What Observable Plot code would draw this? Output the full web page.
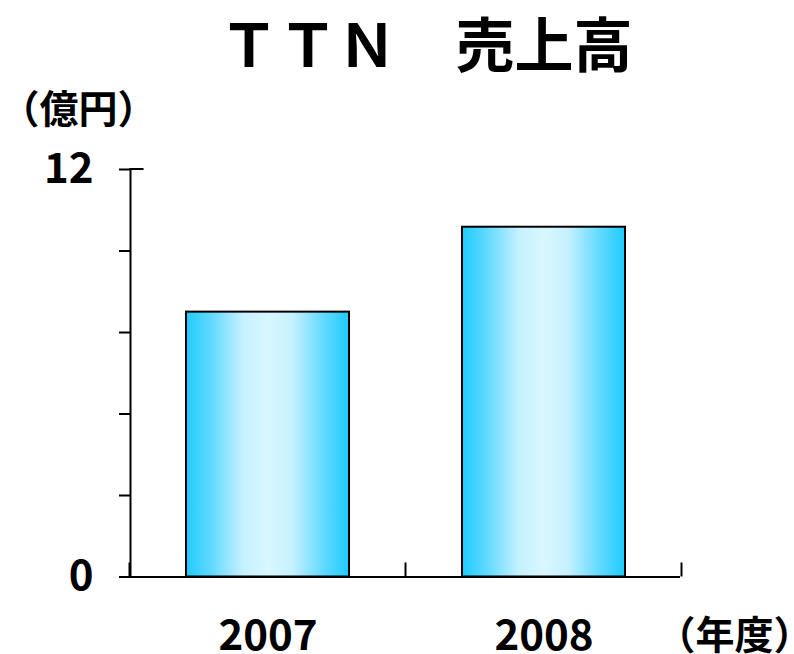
<!DOCTYPE html>
<html>
<head>
<meta charset="utf-8">
<script src="https://cdn.jsdelivr.net/npm/d3@7"></script>
<script src="https://cdn.jsdelivr.net/npm/@observablehq/plot@0.6"></script>
<style>
  html, body { margin: 0; padding: 0; background: #fff; }
  body { width: 794px; height: 654px; overflow: hidden; font-family: "Noto Sans CJK JP", sans-serif; }
  #title { height: 90px; line-height: 84px; font-size: 59px; font-weight: bold; padding-left: 58px; text-align: center; white-space: pre; color: #000; }
  #chart svg { display: block; }
</style>
</head>
<body>
<div id="title">ＴＴＮ　売上高</div>
<div id="chart"></div>
<script>
const years = ["2007", "2008"];
const sales = [7.8, 10.3];
const yTicks = [0, 2.4, 4.8, 7.2, 9.6, 12];
const yLabelTicks = [0, 12];
const yUnit = "（億円）";
const xUnit = "（年度）";
const gradStops = [
  ["0%", "#1ecbff"],
  ["15%", "#5fd9ff"],
  ["35%", "#c6f1ff"],
  ["50%", "#d8f7ff"],
  ["65%", "#c6f1ff"],
  ["85%", "#5fd9ff"],
  ["100%", "#1ecbff"]
];

const data = years.map((y, i) => ({year: y, value: sales[i]}));

const plot = Plot.plot({
  width: 794,
  height: 564,
  marginLeft: 130,
  marginRight: 114,
  marginTop: 79,
  marginBottom: 77.5,
  style: {fontFamily: '"Noto Sans CJK JP", sans-serif', fontWeight: "bold", fontSize: "42px", background: "white", color: "black", overflow: "visible"},
  x: {domain: years, paddingInner: 0.41, paddingOuter: 0.2, label: null},
  y: {domain: [0, 12], label: null},
  marks: [
    Plot.barY(data, {x: "year", y: "value", fill: "url(#barGrad)", stroke: "black", strokeWidth: 2}),
    Plot.axisX({tickSize: 0, tickPadding: 43, fontSize: 42, label: null}),
    Plot.axisY({ticks: yTicks, tickSize: 11, tickPadding: 26, strokeWidth: 2, fontSize: 42,
      tickFormat: d => yLabelTicks.includes(d) ? String(d) : "", label: null}),
    Plot.frame({anchor: "left", strokeWidth: 2}),
    Plot.ruleY([0], {strokeWidth: 2}),
    Plot.text([yUnit], {frameAnchor: "top-left", dx: -130, dy: -59, textAnchor: "start", lineAnchor: "middle", fontSize: 39, fontWeight: "bold"}),
    Plot.text([xUnit], {frameAnchor: "bottom-right", dx: -24, dy: 60, textAnchor: "start", lineAnchor: "middle", fontSize: 39, fontWeight: "bold"})
  ]
});

const svg = d3.select(plot);
const grad = svg.insert("defs", ":first-child")
  .append("linearGradient")
  .attr("id", "barGrad")
  .attr("x1", "0").attr("x2", "1").attr("y1", "0").attr("y2", "0");
gradStops.forEach(([o, c]) => grad.append("stop").attr("offset", o).attr("stop-color", c));

const xs = plot.scale("x");
const ys = plot.scale("y");
const half = (xs.step - xs.bandwidth) / 2;
const bounds = years.map(y => xs.apply(y) - half).concat([xs.apply(years[years.length - 1]) + xs.bandwidth + half]);
const y0 = ys.apply(0);
const extra = svg.append("g").attr("stroke", "black").attr("stroke-width", 2);
bounds.forEach(b => extra.append("line").attr("x1", b).attr("x2", b).attr("y1", y0).attr("y2", y0 - 14));
const yTop = ys.apply(12);
extra.append("line").attr("x1", bounds[0]).attr("x2", bounds[0] + 14).attr("y1", yTop).attr("y2", yTop);

document.getElementById("chart").append(plot);
</script>
</body>
</html>
